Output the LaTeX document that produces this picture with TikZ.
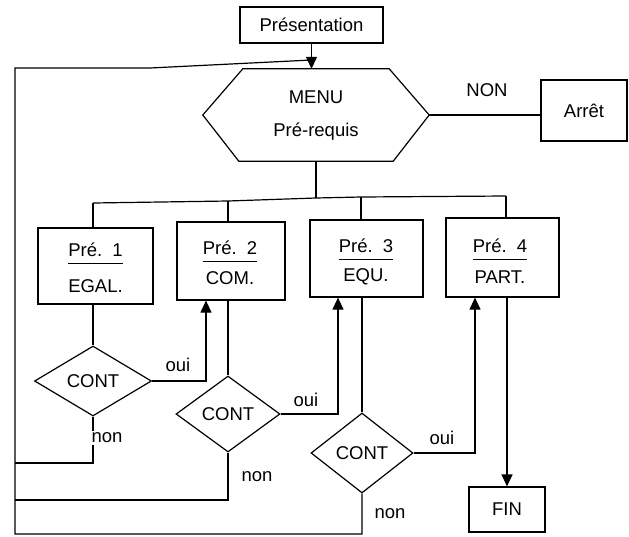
\documentclass[tikz,border=0pt]{standalone}
\usepackage{fontspec}
\setmainfont{Liberation Sans}
\usetikzlibrary{shapes.geometric,arrows.meta,calc}
\begin{document}
\begin{tikzpicture}[x=1pt,y=-1pt,
  every node/.style={font=\fontsize{18.5}{22}\selectfont, inner sep=0pt},
  line/.style={line width=1.2pt, line join=miter},
  arr/.style={line, -{Triangle[length=12pt,width=11pt]}},
  box/.style={draw, line width=1.2pt, rectangle, inner sep=0pt},
  cond/.style={draw, line width=1.2pt, diamond, inner sep=0pt},
  wlbl/.style={fill=white, inner sep=1.5pt}]
\useasboundingbox (0,0) rectangle (629,536);

% top part
\node[box, minimum width=143pt, minimum height=36pt] (pres) at (311.5,25) {Présentation};
\node[minimum width=226pt, minimum height=92pt] (hex) at (316,115) {};
\draw[line] ($(hex.north west)+(40,0)$) -- ($(hex.north east)+(-40,0)$) -- (hex.east)
  -- ($(hex.south east)+(-36,0)$) -- ($(hex.south west)+(36,0)$) -- (hex.west) -- cycle;
\node (menuA) at (316,97) {MENU};
\node (menuB) at (316,132) {Pré-requis};
\node[box, minimum width=86pt, minimum height=61pt] (arret) at (584,110.5) {Arrêt};
\draw[line] (hex.east) -- (hex.east -| arret.west);
\node (nonT) at (487,90) {NON};
\draw[arr] (pres.south) -- (pres.south |- hex.north);

% boxes
\node[box, minimum width=115pt, minimum height=76pt] (b1) at (95.5,266) {};
\node (b1t) at (95.5,250) {Pré.~~1};
\node (b1b) at (95.5,286) {EGAL.};
\draw[line] ($(b1t.base west)+(0,7)$) -- ($(b1t.base east)+(0,7)$);

\node[box, minimum width=108pt, minimum height=78pt] (b2) at (231,261) {};
\node (b2t) at (230,248) {Pré.~~2};
\node (b2b) at (230,278) {COM.};
\draw[line] ($(b2t.base west)+(0,7)$) -- ($(b2t.base east)+(0,7)$);

\node[box, minimum width=113pt, minimum height=77pt] (b3) at (366.5,258.5) {};
\node (b3t) at (366,246) {Pré.~~3};
\node (b3b) at (366,277) {EQU.};
\draw[line] ($(b3t.base west)+(0,7)$) -- ($(b3t.base east)+(0,7)$);

\node[box, minimum width=113pt, minimum height=79pt] (b4) at (502.5,257.5) {};
\node (b4t) at (500,246) {Pré.~~4};
\node (b4b) at (500,277) {PART.};
\draw[line] ($(b4t.base west)+(0,7)$) -- ($(b4t.base east)+(0,7)$);

% bus
\coordinate (bus1) at (93,203);
\coordinate (bus2) at (228,201);
\coordinate (busm) at (316,198);
\coordinate (bus3) at (361,197);
\coordinate (bus4) at (506,196);
\draw[line] (hex.south) -- (busm);
\draw[line] (bus1) -- (bus2) -- (busm) -- (bus3) -- (bus4);
\draw[line] (bus1) -- (bus1 |- b1.north);
\draw[line] (bus2) -- (bus2 |- b2.north);
\draw[line] (bus3) -- (bus3 |- b3.north);
\draw[line] (bus4) -- (bus4 |- b4.north);

% diamonds
\node[cond, minimum width=117pt, minimum height=70pt] (d1) at (93,381) {CONT};
\node[cond, minimum width=104pt, minimum height=76pt] (d2) at (228,414) {CONT};
\node[cond, minimum width=102pt, minimum height=80pt] (d3) at (362,453) {CONT};
\node[box, minimum width=76pt, minimum height=45pt] (fin) at (507,509.5) {FIN};

\draw[line] (b1.south -| d1.north) -- (d1.north);
\draw[line] (b2.south -| d2.north) -- (d2.north);
\draw[line] (b3.south -| d3.north) -- (d3.north);
\draw[arr] (b4.south -| fin.north) -- (fin.north);

% oui branches
\coordinate (in2) at (206,0);
\coordinate (in3) at (338,0);
\coordinate (in4) at (475,0);
\draw[arr] (d1.east) -| (b2.south -| in2);
\draw[arr] (d2.east) -| (b3.south -| in3);
\draw[arr] (d3.east) -| (b4.south -| in4);
\node (oui1) at (178,365) {oui};
\node (oui2) at (306,400) {oui};
\node (oui3) at (442,438) {oui};

% non branches
\coordinate (n1) at (15,463);
\coordinate (n2) at (15,500);
\coordinate (n3) at (15,534);
\coordinate (top) at (15,68);
\coordinate (bend) at (150,68);
\coordinate (join) at (311.5,60);
\draw[line] (d1.south) |- (n1);
\draw[line] (d2.south) |- (n2);
\draw[line] (d3.south) |- (n3) -- (top) -- (bend) -- (join);
\node[wlbl] (non1) at (107,438) {non};
\node (non2) at (257,477) {non};
\node (non3) at (390,514) {non};
\end{tikzpicture}
\end{document}
